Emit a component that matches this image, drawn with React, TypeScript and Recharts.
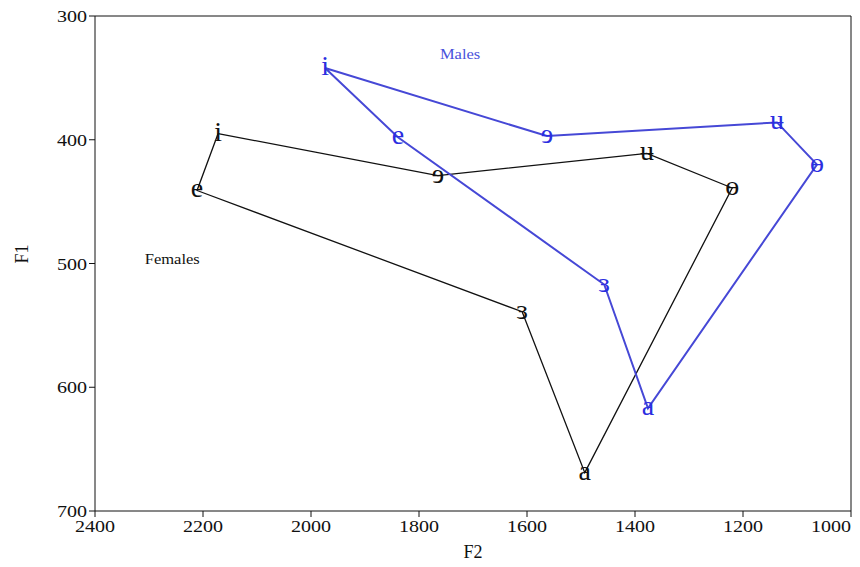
import React from "react";
import {
  ReferenceLine,
  Scatter,
  ScatterChart,
  XAxis,
  YAxis,
} from "recharts";

// vowel symbols, in the order the polygons are traced
const vowels = ["i", "ɘ", "ʉ", "ɵ", "a", "ɜ", "e"];

const femaleF2 = [2172, 1765, 1378, 1220, 1493, 1609, 2211];
const femaleF1 = [395, 429, 411, 439, 669, 539, 441];

const maleF2 = [1974, 1563, 1137, 1063, 1376, 1457, 1839];
const maleF1 = [342, 397, 386, 420, 617, 517, 398];

const xTicks = [2400, 2200, 2000, 1800, 1600, 1400, 1200, 1000];
const yTicks = [300, 400, 500, 600, 700];

const groupLabels = [
  { name: "Males", f2: 1724, f1: 331 },
  { name: "Females", f2: 2257, f1: 496 },
];

const BLUE_LINE = "#4648d6";
const BLUE_TEXT = "#2b2ee0";
const FONT = "Liberation Serif, DejaVu Serif, serif";
const STRETCH = 1.18; // the source typesetting is a little wide

// closed polygon: repeat the first vowel at the end so the line wraps around
function polygon(f2: number[], f1: number[]) {
  const pts = vowels.map((v, i) => ({ vowel: v, f2: f2[i], f1: f1[i], closing: false }));
  return [...pts, { ...pts[0], closing: true }];
}

const females = polygon(femaleF2, femaleF1);
const males = polygon(maleF2, maleF1);

// eslint-disable-next-line @typescript-eslint/no-explicit-any
function WideText({ x, y, anchor = "middle", size, fill, children }: any) {
  return (
    <text
      transform={`translate(${x},${y}) scale(${STRETCH},1)`}
      textAnchor={anchor}
      fontSize={size}
      fill={fill}
      fontFamily={FONT}
    >
      {children}
    </text>
  );
}

function vowelShape(color: string) {
  // eslint-disable-next-line @typescript-eslint/no-explicit-any
  return (props: any) => {
    const { cx, cy, payload } = props;
    if (payload.closing) return <g />;
    return (
      <text
        x={cx}
        y={cy + 7}
        textAnchor="middle"
        fill={color}
        fontSize={28}
        fontFamily={FONT}
      >
        {payload.vowel}
      </text>
    );
  };
}

// eslint-disable-next-line @typescript-eslint/no-explicit-any
function groupShape(props: any) {
  const { cx, cy, payload } = props;
  return (
    <WideText x={cx} y={cy + 5} size={14} fill={payload.name === "Males" ? "#4a52dc" : "#111"}>
      {payload.name}
    </WideText>
  );
}

// eslint-disable-next-line @typescript-eslint/no-explicit-any
function XTick(props: any) {
  const { x, y, payload } = props;
  const last = payload.value === 1000;
  return (
    <WideText x={last ? x + 7 : x} y={y + 14} anchor={last ? "end" : "middle"} size={17} fill="#111">
      {payload.value}
    </WideText>
  );
}

// eslint-disable-next-line @typescript-eslint/no-explicit-any
function YTick(props: any) {
  const { x, y, payload } = props;
  return (
    <WideText x={x} y={y + 6} anchor="end" size={17} fill="#111">
      {payload.value}
    </WideText>
  );
}

export default function App() {
  return (
    <div style={{ position: "absolute", left: 0, top: 0, fontFamily: FONT }}>
      <ScatterChart
        width={860}
        height={567}
        margin={{ top: 16, right: 9, bottom: 0, left: 0 }}
      >
        <XAxis
          type="number"
          dataKey="f2"
          domain={[1000, 2400]}
          ticks={xTicks}
          reversed
          height={56}
          tickSize={6}
          tickMargin={1}
          stroke="#111"
          tick={<XTick />}
          label={{
            value: "F2",
            position: "insideBottom",
            offset: 9,
            fontSize: 18,
            fill: "#111",
            fontFamily: FONT,
          }}
        />
        <YAxis
          type="number"
          dataKey="f1"
          domain={[300, 700]}
          ticks={yTicks}
          reversed
          width={95}
          tickSize={6}
          tickMargin={2}
          stroke="#111"
          tick={<YTick />}
          label={{
            value: "F1",
            angle: -90,
            position: "insideLeft",
            offset: 22,
            fontSize: 18,
            fill: "#111",
            fontFamily: FONT,
          }}
        />
        <ReferenceLine y={300} stroke="#111" />
        <ReferenceLine x={1000} stroke="#111" />
        <Scatter
          data={females}
          line={{ stroke: "#111", strokeWidth: 1.3 }}
          lineType="joint"
          shape={vowelShape("#111")}
          isAnimationActive={false}
        />
        <Scatter
          data={males}
          line={{ stroke: BLUE_LINE, strokeWidth: 2 }}
          lineType="joint"
          shape={vowelShape(BLUE_TEXT)}
          isAnimationActive={false}
        />
        <Scatter data={groupLabels} shape={groupShape} isAnimationActive={false} />
      </ScatterChart>
    </div>
  );
}
